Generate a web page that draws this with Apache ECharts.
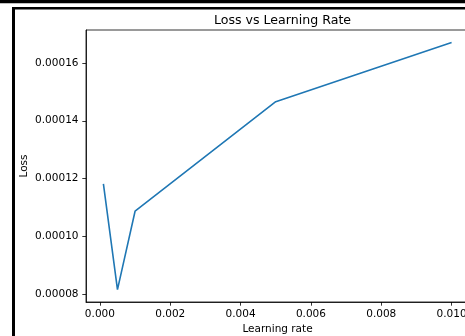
<!DOCTYPE html>
<html>
<head>
<meta charset="utf-8">
<script src="https://cdn.jsdelivr.net/npm/echarts@6/dist/echarts.min.js"></script>
<style>html,body{margin:0;padding:0;background:#fff;}#c{width:465px;height:336px;}</style>
</head>
<body>
<div id="c"></div>
<script>
const learningRates = [0.0001, 0.0005, 0.001, 0.005, 0.01];
const lossValues = [0.0001182, 0.0000816, 0.0001087, 0.0001466, 0.0001671];
const xTicks = [0, 0.002, 0.004, 0.006, 0.008, 0.010];
const yTicks = [0.00008, 0.00010, 0.00012, 0.00014, 0.00016];

const FONT = 'DejaVu Sans';
const chart = echarts.init(document.getElementById('c'), null, {renderer: 'canvas'});
chart.setOption({
  animation: false,
  backgroundColor: '#fff',
  title: {
    text: 'Loss vs Learning Rate',
    left: 277.5, top: 9, textAlign: 'center',
    textStyle: {fontFamily: FONT, fontSize: 12.6, fontWeight: 'normal', color: '#000'}
  },
  grid: {left: 86, top: 30, width: 383, height: 272, outerBoundsMode: 'none', containLabel: false, show: true, borderColor: '#000', borderWidth: 0.8, backgroundColor: 'transparent'},
  xAxis: {
    type: 'value', min: -0.000395, max: 0.010495,
    name: 'Learning rate', nameLocation: 'middle', nameGap: 21.5, nameMoveOverlap: false,
    nameTextStyle: {fontFamily: FONT, fontSize: 10.5, color: '#000'},
    axisLine: {show: true, onZero: false, lineStyle: {color: '#000', width: 0.8}},
    axisTick: {show: true, length: 3.7, inside: false, customValues: xTicks, lineStyle: {color: '#000', width: 0.8}},
    axisLabel: {customValues: xTicks, margin: 7, fontFamily: FONT, fontSize: 10.5, color: '#000', formatter: v => v.toFixed(3)},
    splitLine: {show: false}
  },
  yAxis: {
    type: 'value', min: 0.0000773, max: 0.0001714,
    name: 'Loss', nameLocation: 'middle', nameGap: 56.5, nameMoveOverlap: false,
    nameTextStyle: {fontFamily: FONT, fontSize: 10.5, color: '#000'},
    axisLine: {show: true, onZero: false, lineStyle: {color: '#000', width: 0.8}},
    axisTick: {show: true, length: 3.7, inside: false, customValues: yTicks, lineStyle: {color: '#000', width: 0.8}},
    axisLabel: {customValues: yTicks, margin: 7.5, fontFamily: FONT, fontSize: 10.5, color: '#000', formatter: v => v.toFixed(5)},
    splitLine: {show: false}
  },
  series: [{
    type: 'line',
    data: learningRates.map((x, i) => [x, lossValues[i]]),
    showSymbol: false,
    lineStyle: {color: '#1f77b4', width: 1.6},
    itemStyle: {color: '#1f77b4'}
  }],
  graphic: [
    {type: 'rect', shape: {x: 0, y: 0, width: 465, height: 3.3}, style: {fill: '#000'}, silent: true},
    {type: 'rect', shape: {x: 12, y: 7, width: 453, height: 2.5}, style: {fill: '#000'}, silent: true},
    {type: 'rect', shape: {x: 12, y: 7, width: 3, height: 329}, style: {fill: '#000'}, silent: true}
  ]
});
</script>
</body>
</html>
